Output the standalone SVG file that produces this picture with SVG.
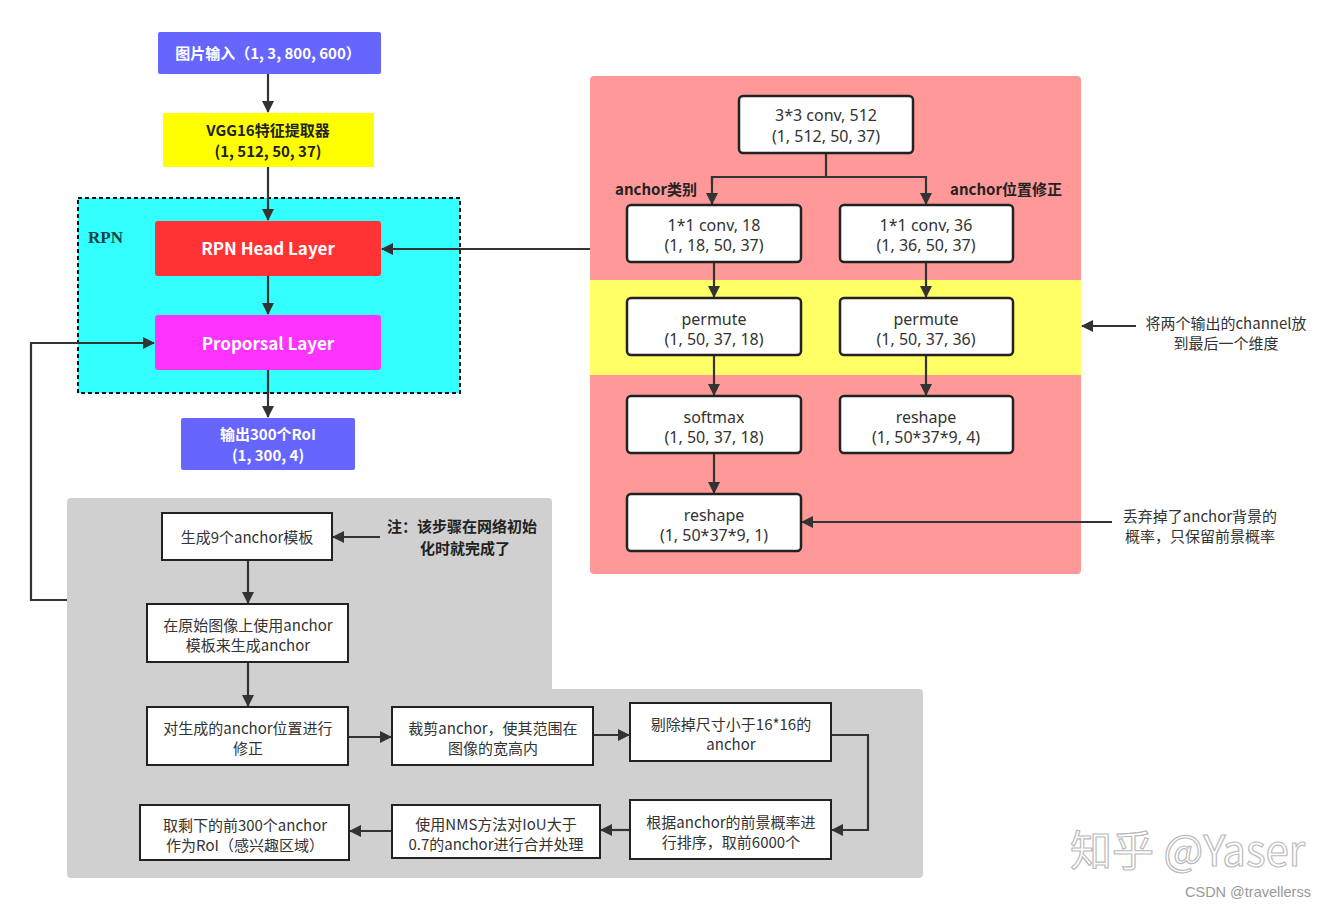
<svg xmlns="http://www.w3.org/2000/svg" width="1337" height="908" viewBox="0 0 1337 908">
<defs>
<marker id="ah" viewBox="0 0 12 12" refX="11" refY="6" markerWidth="12" markerHeight="12" markerUnits="userSpaceOnUse" orient="auto">
<path d="M0,0 L12,6 L0,12 Z" fill="#333"/>
</marker>
<style>
.t{font-family:"Noto Sans","Noto Sans CJK SC",sans-serif;font-size:16px;fill:#333;text-anchor:middle}
.tb{font-family:"Noto Sans CJK SC","Noto Sans",sans-serif;font-size:15px;font-weight:bold;fill:#222;text-anchor:middle}
.tw{font-family:"Noto Sans CJK SC","Noto Sans",sans-serif;font-size:17px;font-weight:bold;fill:#fff;text-anchor:middle}
.tw15{font-family:"Noto Sans CJK SC","Noto Sans",sans-serif;font-size:15px;font-weight:bold;fill:#fff;text-anchor:middle}
.bx{fill:#fff;stroke:#222;stroke-width:2.5}
.sq{fill:#fff;stroke:#222;stroke-width:2}
.c{fill:none;stroke:#333;stroke-width:2.2}
.ca{fill:none;stroke:#333;stroke-width:2.2;marker-end:url(#ah)}
.an{font-family:"Noto Sans CJK SC","Noto Sans",sans-serif;font-size:15px;fill:#333;text-anchor:middle}
</style>
</defs>
<rect width="1337" height="908" fill="#fff"/>

<!-- containers -->
<g id="rpn-container">
<rect x="78" y="198" width="382" height="195" fill="#33FFFF" stroke="#111" stroke-width="2" stroke-dasharray="4,3"/>
<text x="88" y="243" font-family="Liberation Serif,serif" font-size="17" font-weight="bold" fill="#144">RPN</text>
</g>
<g id="head-panel">
<rect x="590" y="76" width="491" height="498" rx="4" fill="#FF9999"/>
<rect x="590" y="280" width="491" height="95" fill="#FFFF66"/>
</g>
<g id="proposal-panel">
<path d="M71,498 H548 a4,4 0 0 1 4,4 V689 H919 a4,4 0 0 1 4,4 V874 a4,4 0 0 1 -4,4 H71 a4,4 0 0 1 -4,-4 V502 a4,4 0 0 1 4,-4 Z" fill="#D0D0D0"/>
</g>

<!-- connectors -->
<g id="connectors">
<path class="ca" d="M268,74 V112"/>
<path class="ca" d="M268,167 V220"/>
<path class="ca" d="M268,276 V314"/>
<path class="ca" d="M268,370 V417"/>
<path class="ca" d="M590,249 H382"/>
<path class="ca" d="M67,600 H31 V343 H154"/>
<path class="c" d="M826,153 V177 H712 V184"/>
<path class="ca" d="M712,176 V204"/>
<path class="ca" d="M826,177 H926 V204"/>
<path class="ca" d="M714,262 V297"/>
<path class="ca" d="M926,262 V297"/>
<path class="ca" d="M714,355 V395"/>
<path class="ca" d="M926,355 V395"/>
<path class="ca" d="M714,453 V493"/>
<path class="ca" d="M1136,326 H1082"/>
<path class="ca" d="M1112,522 H802"/>
<path class="ca" d="M380,537 H333"/>
<path class="ca" d="M248,560 V603"/>
<path class="ca" d="M248,662 V706"/>
<path class="ca" d="M348,737 H391"/>
<path class="ca" d="M593,735 H629"/>
<path class="ca" d="M831,735 H868 V830 H832"/>
<path class="ca" d="M630,830 H601"/>
<path class="ca" d="M392,831 H350"/>
</g>

<!-- left column nodes -->
<g id="n-input">
<rect x="158" y="32" width="223" height="42" rx="2" fill="#6666FF"/>
<text class="tw15" x="268" y="59">图片输入（1, 3, 800, 600）</text>
</g>
<g id="n-vgg">
<rect x="163" y="113" width="211" height="54" fill="#FFFF00"/>
<text class="tb" x="268" y="136">VGG16特征提取器</text>
<text class="tb" x="268" y="157">(1, 512, 50, 37)</text>
</g>
<g id="n-rpnhead">
<rect x="155" y="221" width="226" height="55" rx="3" fill="#FF3333"/>
<text class="tw" x="268" y="255">RPN Head Layer</text>
</g>
<g id="n-proposal">
<rect x="155" y="315" width="226" height="55" rx="3" fill="#FF33FF"/>
<text class="tw" x="268" y="350">Proporsal Layer</text>
</g>
<g id="n-output">
<rect x="181" y="418" width="174" height="52" rx="2" fill="#6666FF"/>
<text class="tw15" x="268" y="440">输出300个RoI</text>
<text class="tw15" x="268" y="461">(1, 300, 4)</text>
</g>

<!-- right panel nodes -->
<g id="n-conv3">
<rect class="bx" x="739" y="96" width="174" height="57" rx="4"/>
<text class="t" x="826" y="121">3*3 conv, 512</text>
<text class="t" x="826" y="142">(1, 512, 50, 37)</text>
</g>
<text class="tb" x="656" y="195">anchor类别</text>
<text class="tb" x="1006" y="195">anchor位置修正</text>
<g id="n-conv18">
<rect class="bx" x="627" y="205" width="174" height="57" rx="4"/>
<text class="t" x="714" y="231">1*1 conv, 18</text>
<text class="t" x="714" y="251">(1, 18, 50, 37)</text>
</g>
<g id="n-conv36">
<rect class="bx" x="840" y="205" width="173" height="57" rx="4"/>
<text class="t" x="926" y="231">1*1 conv, 36</text>
<text class="t" x="926" y="251">(1, 36, 50, 37)</text>
</g>
<g id="n-perm18">
<rect class="bx" x="627" y="298" width="174" height="57" rx="4"/>
<text class="t" x="714" y="325">permute</text>
<text class="t" x="714" y="345">(1, 50, 37, 18)</text>
</g>
<g id="n-perm36">
<rect class="bx" x="840" y="298" width="173" height="57" rx="4"/>
<text class="t" x="926" y="325">permute</text>
<text class="t" x="926" y="345">(1, 50, 37, 36)</text>
</g>
<g id="n-softmax">
<rect class="bx" x="627" y="396" width="174" height="57" rx="4"/>
<text class="t" x="714" y="423">softmax</text>
<text class="t" x="714" y="443">(1, 50, 37, 18)</text>
</g>
<g id="n-reshape4">
<rect class="bx" x="840" y="396" width="173" height="57" rx="4"/>
<text class="t" x="926" y="423">reshape</text>
<text class="t" x="926" y="443">(1, 50*37*9, 4)</text>
</g>
<g id="n-reshape1">
<rect class="bx" x="627" y="494" width="174" height="57" rx="4"/>
<text class="t" x="714" y="521">reshape</text>
<text class="t" x="714" y="541">(1, 50*37*9, 1)</text>
</g>
<g id="note-channel">
<text class="an" x="1226" y="329">将两个输出的channel放</text>
<text class="an" x="1226" y="349">到最后一个维度</text>
</g>
<g id="note-discard">
<text class="an" x="1200" y="522">丢弃掉了anchor背景的</text>
<text class="an" x="1200" y="542">概率，只保留前景概率</text>
</g>

<!-- bottom panel nodes -->
<g id="n-gen9">
<rect class="sq" x="162" y="513" width="170" height="47"/>
<text class="an" x="247" y="543">生成9个anchor模板</text>
</g>
<g id="note-init">
<text class="tb" x="462" y="532">注：该步骤在网络初始</text>
<text class="tb" x="465" y="554">化时就完成了</text>
</g>
<g id="n-genanchor">
<rect class="sq" x="147" y="604" width="201" height="58"/>
<text class="an" x="248" y="631">在原始图像上使用anchor</text>
<text class="an" x="248" y="651">模板来生成anchor</text>
</g>
<g id="n-adjust">
<rect class="sq" x="147" y="707" width="201" height="58"/>
<text class="an" x="248" y="734">对生成的anchor位置进行</text>
<text class="an" x="248" y="754">修正</text>
</g>
<g id="n-clip">
<rect class="sq" x="392" y="707" width="201" height="58"/>
<text class="an" x="493" y="734">裁剪anchor，使其范围在</text>
<text class="an" x="493" y="754">图像的宽高内</text>
</g>
<g id="n-remove">
<rect class="sq" x="630" y="703" width="201" height="58"/>
<text class="an" x="731" y="730">剔除掉尺寸小于16*16的</text>
<text class="an" x="731" y="750">anchor</text>
</g>
<g id="n-sort">
<rect class="sq" x="630" y="800" width="201" height="59"/>
<text class="an" x="731" y="828">根据anchor的前景概率进</text>
<text class="an" x="731" y="848">行排序，取前6000个</text>
</g>
<g id="n-nms">
<rect class="sq" x="392" y="805" width="208" height="53"/>
<text class="an" x="496" y="830">使用NMS方法对IoU大于</text>
<text class="an" x="496" y="850">0.7的anchor进行合并处理</text>
</g>
<g id="n-top300">
<rect class="sq" x="140" y="805" width="209" height="55"/>
<text class="an" x="245" y="831">取剩下的前300个anchor</text>
<text class="an" x="245" y="851">作为RoI（感兴趣区域）</text>
</g>

<!-- watermarks -->
<g id="watermark">
<text x="1070" y="866" font-family="Noto Sans CJK SC,Noto Sans,sans-serif" font-size="42" fill="#fff" stroke="#bbb" stroke-width="1.2">知乎 @Yaser</text>
<text x="1185" y="897" font-family="Liberation Sans,Arial,sans-serif" font-size="14.5" fill="#999">CSDN @travellerss</text>
</g>
</svg>
